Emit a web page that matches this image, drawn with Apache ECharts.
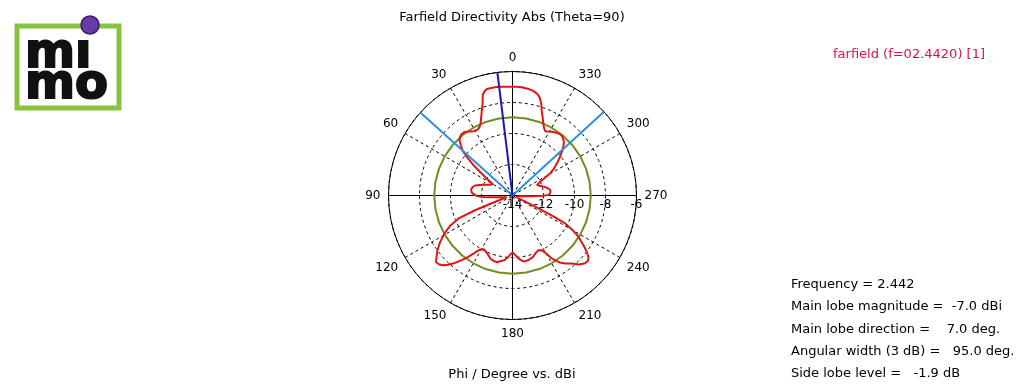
<!DOCTYPE html>
<html><head><meta charset="utf-8">
<script src="https://cdn.jsdelivr.net/npm/echarts@6/dist/echarts.min.js"></script>
<style>html,body{margin:0;padding:0;background:#fff}#c{width:1018px;height:389px}</style>
</head><body><div id="c"></div>
<script>
// ---- data ----
const phi = [0,4,7,10,13.5,15,16.5,18,20,22,24,26,28,31,34,37,40,42,44,46,48,50,52,54,56,58,60,62,65,69,72,75,78,82,86,89,91,93,95,98,102,106,109,110.5,111.5,113,116,119,123,126,129,131,133,135,137,139.5,142,144,146,148,150,152,155,158,161,164,167,170,173,176,180,183,186,190,194,198,202,205,208,210,212,215,218,221,224,227,229,231,233,235,238,240,242,243,244,245.5,250,256,262,266,268,269.5,271,274,278,282,286,290,293.5,296.5,300.5,303,306,309,312,315,317,320,322,325,328,331,333,335,336.5,338.5,341,342.5,344.5,346.5,349,352,355,358,360];
const dBi = [-6.98,-6.96,-6.93,-6.93,-6.94,-7.04,-7.24,-7.76,-8.21,-8.60,-8.93,-9.12,-9.19,-9.16,-9.02,-8.86,-8.86,-8.93,-9.09,-9.38,-9.67,-10.20,-10.75,-11.40,-11.92,-12.24,-12.54,-12.47,-12.37,-12.08,-11.79,-11.50,-11.37,-11.30,-11.37,-11.56,-11.72,-12.05,-12.70,-13.22,-13.48,-13.61,-13.35,-12.57,-11.40,-10.23,-9.51,-8.99,-8.41,-8.02,-7.69,-7.46,-7.50,-7.63,-7.89,-8.28,-8.73,-9.09,-9.45,-9.80,-10.00,-10.07,-9.98,-9.84,-9.67,-9.61,-9.58,-9.71,-9.80,-10.03,-10.33,-10.13,-9.87,-9.67,-9.71,-9.80,-10.00,-10.10,-10.00,-9.71,-9.19,-8.73,-8.44,-8.18,-7.82,-7.59,-7.56,-7.69,-8.02,-8.41,-8.99,-9.51,-10.16,-11.07,-12.37,-13.48,-13.74,-13.80,-13.74,-13.48,-12.70,-12.05,-11.66,-11.56,-11.53,-11.69,-11.92,-12.15,-12.28,-11.98,-11.17,-10.81,-10.44,-10.07,-9.67,-9.32,-9.15,-9.02,-8.99,-9.06,-9.15,-9.28,-9.34,-9.19,-8.99,-8.67,-8.21,-7.82,-7.43,-7.24,-7.11,-7.04,-6.99,-6.98,-6.98];
const radialMin = -14;
const radialMax = -6;
const radialStep = 2;
const angleStep = 30;
const mainLobeDirection = 7;
const beamEdges = [48, 312.5];
const level3dB = -8.95;
const circleAngles = [0,10,20,30,40,50,60,70,80,90,100,110,120,130,140,150,160,170,180,190,200,210,220,230,240,250,260,270,280,290,300,310,320,330,340,350,360];
const crossAngles = [0, 90, 180];
const titleText = 'Farfield Directivity Abs (Theta=90)';
const axisTitle = 'Phi / Degree vs. dBi';
const legendText = 'farfield (f=02.4420) [1]';
const infoLines = [
  'Frequency = 2.442',
  'Main lobe magnitude =  -7.0 dBi',
  'Main lobe direction =    7.0 deg.',
  'Angular width (3 dB) =   95.0 deg.',
  'Side lobe level =   -1.9 dB'
];

// ---- chart ----
const FONT = '"DejaVu Sans", Verdana, sans-serif';
const chart = echarts.init(document.getElementById('c'), null, {renderer: 'canvas'});

const curve = phi.map((p, i) => [dBi[i], p]);
const greenCircle = circleAngles.map(a => [level3dB, a]);

function spoke(angle, color, width, z) {
  return {type: 'line', coordinateSystem: 'polar', data: [[radialMin, angle], [radialMax, angle]],
          symbol: 'none', silent: true, lineStyle: {color: color, width: width}, z: z};
}

const infoGraphics = infoLines.map((t, i) => ({
  type: 'text', x: 791, y: 285 + i * 22.1,
  style: {text: t, fill: '#000', font: '13px ' + FONT, align: 'left', verticalAlign: 'middle'}
}));

chart.setOption({
  animation: false,
  backgroundColor: '#fff',
  polar: {center: [512.5, 195.5], radius: 124},
  angleAxis: {
    type: 'value', min: -90, max: 270, interval: angleStep,
    startAngle: 0, clockwise: false,
    axisLine: {show: true, lineStyle: {color: '#000', width: 1}},
    axisTick: {show: false},
    splitLine: {show: true, lineStyle: {color: '#000', width: 1, type: [3, 3]}},
    axisLabel: {
      show: true, margin: 8, color: '#000', fontFamily: FONT, fontSize: 12,
      formatter: v => (v === 270 ? '' : String(v < 0 ? v + 360 : v))
    }
  },
  radiusAxis: {
    type: 'value', min: radialMin, max: radialMax, interval: radialStep,
    axisLine: {show: true, lineStyle: {color: '#000', width: 1}},
    axisTick: {show: false},
    splitLine: {show: true, lineStyle: {color: '#000', width: 1, type: [3, 3]}},
    axisLabel: {show: true, margin: -15, color: '#000', fontFamily: FONT, fontSize: 12}
  },
  series: [
    ...crossAngles.map(a => spoke(a, '#000', 1, 1)),
    {type: 'line', coordinateSystem: 'polar', data: greenCircle, symbol: 'none', silent: true,
     lineStyle: {color: '#6f8f22', width: 2}, z: 2},
    {type: 'line', coordinateSystem: 'polar', data: curve, symbol: 'none', silent: true,
     lineStyle: {color: '#e01515', width: 2}, z: 3},
    ...beamEdges.map(a => spoke(a, '#2b8fe2', 2, 4)),
    spoke(mainLobeDirection, '#1717b8', 2, 5)
  ],
  graphic: [
    {type: 'text', x: 512, y: 18,
     style: {text: titleText, fill: '#000', font: '13px ' + FONT, align: 'center', verticalAlign: 'middle'}},
    {type: 'text', x: 512, y: 375,
     style: {text: axisTitle, fill: '#000', font: '13px ' + FONT, align: 'center', verticalAlign: 'middle'}},
    {type: 'text', x: 985, y: 55,
     style: {text: legendText, fill: '#dc143c', font: '13px ' + FONT, align: 'right', verticalAlign: 'middle'}},
    ...infoGraphics,
    // logo
    {type: 'rect', shape: {x: 17, y: 26, width: 102, height: 82},
     style: {fill: 'none', stroke: '#86c440', lineWidth: 5}},
    {type: 'text', x: 25, y: 55,
     style: {text: 'm\u0131', fill: '#111', stroke: '#111', lineWidth: 2,
             font: 'bold 48px "DejaVu Sans"', align: 'left', verticalAlign: 'middle'}},
    {type: 'text', x: 25, y: 86,
     style: {text: 'mo', fill: '#111', stroke: '#111', lineWidth: 2,
             font: 'bold 48px "DejaVu Sans"', align: 'left', verticalAlign: 'middle'}},
    {type: 'circle', shape: {cx: 90, cy: 25, r: 9},
     style: {fill: '#6a3aa8', stroke: '#3b1f60', lineWidth: 1.5}}
  ]
});
</script></body></html>
